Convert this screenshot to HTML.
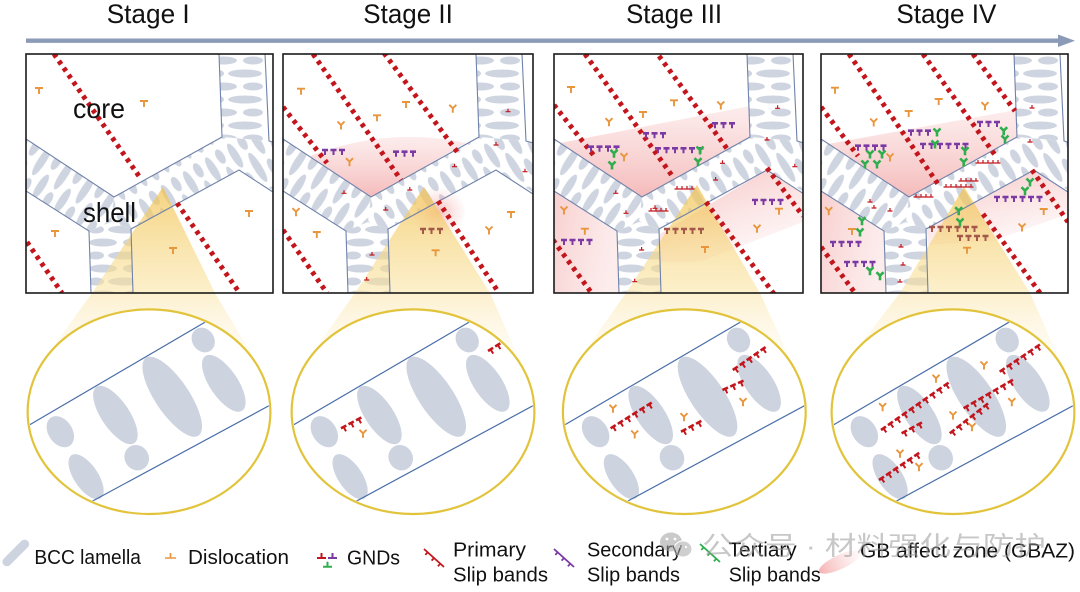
<!DOCTYPE html>
<html><head><meta charset="utf-8"><style>
html,body{margin:0;padding:0;background:#fff}
svg{display:block}
.sb{fill:none;stroke:#c3161c;stroke-width:5;stroke-dasharray:4 4.5}
.tb{fill:none;stroke-width:2.6;stroke-dasharray:6 2.5}
.ts{fill:none;stroke-width:5;stroke-dasharray:2 6.5;stroke-dashoffset:-2}
text{font-family:"Liberation Sans",Arial,sans-serif;fill:#111}
</style></head><body>
<svg width="1080" height="592" viewBox="0 0 1080 592" xmlns="http://www.w3.org/2000/svg">
<defs>
<pattern id="pH" patternUnits="userSpaceOnUse" width="60" height="26">
<ellipse cx="17" cy="6.5" rx="14" ry="4" fill="#cfd5e0"/><ellipse cx="47" cy="6.5" rx="10" ry="4" fill="#cfd5e0"/>
<ellipse cx="10" cy="19.5" rx="8" ry="4" fill="#cfd5e0"/><ellipse cx="39" cy="19.5" rx="17" ry="4" fill="#cfd5e0"/></pattern>
<pattern id="pL" patternUnits="userSpaceOnUse" width="60" height="26" patternTransform="rotate(-57)">
<ellipse cx="17" cy="6.5" rx="14" ry="4" fill="#cfd5e0"/><ellipse cx="47" cy="6.5" rx="10" ry="4" fill="#cfd5e0"/>
<ellipse cx="10" cy="19.5" rx="8" ry="4" fill="#cfd5e0"/><ellipse cx="39" cy="19.5" rx="17" ry="4" fill="#cfd5e0"/></pattern>
<pattern id="pR" patternUnits="userSpaceOnUse" width="60" height="26" patternTransform="rotate(58)">
<ellipse cx="17" cy="6.5" rx="14" ry="4" fill="#cfd5e0"/><ellipse cx="47" cy="6.5" rx="10" ry="4" fill="#cfd5e0"/>
<ellipse cx="10" cy="19.5" rx="8" ry="4" fill="#cfd5e0"/><ellipse cx="39" cy="19.5" rx="17" ry="4" fill="#cfd5e0"/></pattern>
<clipPath id="c1"><rect x="26" y="54" width="247" height="239"/></clipPath>
<clipPath id="c2"><rect x="283" y="54" width="250" height="239"/></clipPath>
<clipPath id="c3"><rect x="554" y="54" width="249" height="239"/></clipPath>
<clipPath id="c4"><rect x="821" y="54" width="247" height="239"/></clipPath>
<clipPath id="ce"><ellipse cx="149" cy="411.7" rx="120" ry="101"/></clipPath>
<linearGradient id="pkV" x1="0" y1="0" x2="0" y2="1"><stop offset="0" stop-color="#f5b5b5" stop-opacity=".25"/><stop offset="1" stop-color="#ee8c8c" stop-opacity=".6"/></linearGradient>
<linearGradient id="pkD" x1="0" y1="0" x2="0.5" y2="1"><stop offset="0" stop-color="#ef8f8f" stop-opacity=".55"/><stop offset="1" stop-color="#f6b8b8" stop-opacity=".12"/></linearGradient>
<linearGradient id="pkH" x1="0" y1="0" x2="1" y2="0.3"><stop offset="0" stop-color="#f2a0a0" stop-opacity=".5"/><stop offset="1" stop-color="#f6c0c0" stop-opacity=".3"/></linearGradient>
<radialGradient id="pkR"><stop offset="0" stop-color="#ef8a8a" stop-opacity=".55"/><stop offset="1" stop-color="#f6b3b3" stop-opacity=".05"/></radialGradient>
<linearGradient id="pkI" x1="0" y1="0" x2="1" y2="0"><stop offset="0" stop-color="#ef7f7f" stop-opacity=".6"/><stop offset="1" stop-color="#f6b3b3" stop-opacity=".05"/></linearGradient>
<linearGradient id="yc" x1="0" y1="0" x2="0" y2="1"><stop offset="0" stop-color="#f1c24f" stop-opacity=".72"/><stop offset="1" stop-color="#fae3a0" stop-opacity=".55"/></linearGradient>
<linearGradient id="yb" x1="0" y1="0" x2="0" y2="1"><stop offset="0" stop-color="#fbe6ae" stop-opacity=".6"/><stop offset="1" stop-color="#fdf3d8" stop-opacity=".15"/></linearGradient>
<path id="T" d="M-4 0H4M0 0V6" fill="none" stroke-width="1.9"/>
<path id="Y" d="M-3.5 -3.5L0 0L3.5 -3.5M0 0V4.5" fill="none" stroke-width="1.9"/>
<path id="Yb" d="M-3.5 -3.5L0 0L3.5 -3.5M0 0V4.5" fill="none" stroke-width="2.6"/>
<path id="g" d="M-2.5 0H2.5M0 0V-3" fill="none" stroke-width="1.2"/>
<g id="band">
<rect width="250" height="239" fill="#fff"/>
<polygon points="0,85 88,143 85,168 63,177 0,137" fill="url(#pL)"/>
<polygon points="63,177 85,168 105,175 107,239 65,239" fill="url(#pH)"/>
<polygon points="88,143 196,83 243,87 250,90 250,138 213,116 105,175 85,168" fill="url(#pR)"/>
<polygon points="193,0 239,0 243,87 196,83" fill="url(#pH)"/>
</g>
<g id="gl" fill="none" stroke="#6f82aa" stroke-width="1.1">
<polyline points="0,85 88,143 196,83 193,0"/>
<polyline points="239,0 243,87 250,89"/>
<polyline points="0,137 63,177 65,239"/>
<polyline points="107,239 105,175 213,116 250,140"/>
</g>
<g id="ell">
<ellipse cx="149" cy="411.7" rx="121.4" ry="102.3" fill="#fff"/>
<g clip-path="url(#ce)">
<g fill="#cdd4e0">
<ellipse cx="60.3" cy="431.7" rx="17" ry="12" transform="rotate(56 60.3 431.7)"/>
<ellipse cx="86.1" cy="476.7" rx="26" ry="12" transform="rotate(56 86.1 476.7)"/>
<ellipse cx="115.4" cy="415" rx="34" ry="14" transform="rotate(56 115.4 415)"/>
<ellipse cx="136.7" cy="457.7" rx="13" ry="12" transform="rotate(56 136.7 457.7)"/>
<ellipse cx="172.2" cy="396.7" rx="47" ry="17" transform="rotate(56 172.2 396.7)"/>
<ellipse cx="203.2" cy="340" rx="13" ry="11" transform="rotate(56 203.2 340)"/>
<ellipse cx="223.8" cy="383.3" rx="33" ry="14" transform="rotate(56 223.8 383.3)"/>
</g>
<path d="M20 430.4L280 278.3M20 540.2L280 399.8" stroke="#4a6ea9" stroke-width="1.2" fill="none"/>
</g>
<ellipse cx="149" cy="411.7" rx="121.4" ry="102.3" fill="none" stroke="#e2c43c" stroke-width="2.2"/>
</g>
</defs>

<rect width="1080" height="592" fill="#fff"/>

<!-- titles -->
<text x="106.7" y="23" font-size="27" textLength="83" lengthAdjust="spacingAndGlyphs">Stage I</text>
<text x="363.3" y="23" font-size="27" textLength="89.5" lengthAdjust="spacingAndGlyphs">Stage II</text>
<text x="626.1" y="23" font-size="27" textLength="96" lengthAdjust="spacingAndGlyphs">Stage III</text>
<text x="896.4" y="23" font-size="27" textLength="100" lengthAdjust="spacingAndGlyphs">Stage IV</text>
<line x1="26" y1="40.7" x2="1060" y2="40.7" stroke="#8b9bb7" stroke-width="4.4"/>
<polygon points="1058,34.5 1075,40.7 1058,47" fill="#8b9bb7"/>

<!-- cones below boxes -->
<polygon points="92,293 215,293 258,365 40,365" fill="url(#yb)"/>
<polygon points="355,293 490,293 522,365 304,365" fill="url(#yb)"/>
<polygon points="626,293 760,293 793,365 575,365" fill="url(#yb)"/>
<polygon points="900,293 1030,293 1062,365 844,365" fill="url(#yb)"/>

<!-- ellipses -->
<use href="#ell"/>
<use href="#ell" x="264"/>
<use href="#ell" x="535.3"/>
<use href="#ell" x="804"/>

<!-- ellipse 2 -->
<g stroke="#c3161c"><g transform="translate(341,428.3) rotate(-28)"><path class="tb" d="M0 0h23"/><path class="ts" d="M0 2.5h23"/></g>
<g transform="translate(488,351) rotate(-32)"><path class="tb" d="M0 0h14.5"/><path class="ts" d="M0 2.5h14.5"/></g></g>
<use href="#Y" x="363" y="433.3" stroke="#e8953c"/>
<!-- ellipse 3 -->
<g stroke="#c3161c">
<g transform="translate(610.6,428.3) rotate(-32)"><path class="tb" d="M0 0h48.5"/><path class="ts" d="M0 2.5h48.5"/></g>
<g transform="translate(681,431.7) rotate(-28)"><path class="tb" d="M0 0h23"/><path class="ts" d="M0 2.5h23"/></g>
<g transform="translate(722.5,390) rotate(-24)"><path class="tb" d="M0 0h23"/><path class="ts" d="M0 2.5h23"/></g>
<g transform="translate(732.8,370) rotate(-35)"><path class="tb" d="M0 0h40"/><path class="ts" d="M0 2.5h40"/></g>
</g>
<g stroke="#e8953c"><use href="#Y" x="613" y="408.3"/><use href="#Y" x="634.7" y="434"/><use href="#Y" x="684" y="416.7"/><use href="#Y" x="743" y="401.7"/></g>
<!-- ellipse 4 -->
<g stroke="#c3161c">
<g transform="translate(881,430) rotate(-35)"><path class="tb" d="M0 0h82.5"/><path class="ts" d="M0 2.5h82.5"/></g>
<g transform="translate(901.6,433.3) rotate(-28)"><path class="tb" d="M0 0h23"/><path class="ts" d="M0 2.5h23"/></g>
<g transform="translate(949.8,433.3) rotate(-38)"><path class="tb" d="M0 0h48.5"/><path class="ts" d="M0 2.5h48.5"/></g>
<g transform="translate(963.6,408.3) rotate(-30)"><path class="tb" d="M0 0h57"/><path class="ts" d="M0 2.5h57"/></g>
<g transform="translate(879,480) rotate(-34)"><path class="tb" d="M0 0h48.5"/><path class="ts" d="M0 2.5h48.5"/></g>
<g transform="translate(999.7,371.7) rotate(-34)"><path class="tb" d="M0 0h48.5"/><path class="ts" d="M0 2.5h48.5"/></g>
</g>
<g stroke="#e8953c"><use href="#Y" x="882.6" y="406.7"/><use href="#Y" x="936" y="378.3"/><use href="#Y" x="984" y="365"/><use href="#Y" x="953" y="415"/><use href="#Y" x="972" y="426.7"/><use href="#Y" x="900" y="453.3"/><use href="#Y" x="919" y="466.7"/><use href="#Y" x="1011.8" y="401.7"/></g>

<!-- PANEL 1 -->
<g clip-path="url(#c1)">
<use href="#band" x="26" y="54"/>
<polygon points="163,187 215,293 92,293" fill="url(#yc)"/>
<use href="#gl" x="26" y="54"/>
<path class="sb" d="M54 54L141 179M177 203L241 295M27 242L62 293"/>
<g stroke="#e8953c"><use href="#T" x="39" y="88"/><use href="#T" x="144" y="101"/><use href="#T" x="249" y="211"/><use href="#T" x="55" y="231"/><use href="#T" x="173" y="248"/></g>
</g>
<rect x="26" y="54" width="247" height="239" fill="none" stroke="#1a1a1a" stroke-width="1.6"/>
<text x="73" y="118" font-size="28" textLength="52" lengthAdjust="spacingAndGlyphs">core</text>
<text x="83" y="222" font-size="28" textLength="53" lengthAdjust="spacingAndGlyphs">shell</text>

<!-- PANEL 2 -->
<g clip-path="url(#c2)">
<use href="#band" x="283" y="54"/>
<path d="M310 156Q390 126 466 143L371 197Z" fill="url(#pkV)"/>
<ellipse cx="438" cy="212" rx="27" ry="24" fill="url(#pkR)"/>
<polygon points="424,187 490,293 355,293" fill="url(#yc)"/>
<use href="#gl" x="283" y="54"/>
<path class="sb" d="M313 54L401 180M384 53L458 153M283 107L327 163M438 201L499 293M283 230L327 293"/>
<g stroke="#7b3aa3"><path class="tb" d="M322 150h23"/><path class="ts" d="M322 152.5h23"/><path class="tb" d="M393 151.7h23"/><path class="ts" d="M393 154.2h23"/></g>
<g stroke="#a4584a"><path class="tb" d="M420 229h23"/><path class="ts" d="M420 231.5h23"/></g>
<g stroke="#e8953c"><use href="#T" x="301" y="88.7"/><use href="#T" x="406" y="102"/><use href="#T" x="377" y="115.3"/><use href="#T" x="316.8" y="232"/><use href="#T" x="435.6" y="250.3"/><use href="#T" x="511" y="212"/>
<use href="#Y" x="452.8" y="108.3"/><use href="#Y" x="341" y="125"/><use href="#Y" x="349.5" y="161.7"/><use href="#Y" x="296" y="211.7"/><use href="#Y" x="489" y="230"/></g>
<g stroke="#c3161c"><use href="#g" x="344" y="193.3"/><use href="#g" x="385.7" y="210"/><use href="#g" x="409.8" y="190"/><use href="#g" x="454.5" y="166.7"/><use href="#g" x="496" y="145"/><use href="#g" x="508" y="111.7"/><use href="#g" x="372" y="255"/><use href="#g" x="366.7" y="280"/><use href="#g" x="525" y="171.7"/></g>
</g>
<rect x="283" y="54" width="250" height="239" fill="none" stroke="#1a1a1a" stroke-width="1.6"/>

<!-- PANEL 3 -->
<g clip-path="url(#c3)">
<use href="#band" x="554" y="54"/>
<polygon points="560,143 750,106 750,137 642,197" fill="url(#pkV)"/>
<polygon points="660,234 767,170 803,193 803,222 700,262 660,262" fill="url(#pkD)"/>
<polygon points="554,191 617,231 619,293 554,293" fill="url(#pkH)"/>
<polygon points="697,185 760,293 626,293" fill="url(#yc)"/>
<use href="#gl" x="554" y="54"/>
<path class="sb" d="M585 54L673 177M659 56L728 150M554 105L595 157M767 168L803 216M706 202L774 294M553 240L593 295"/>
<g stroke="#7b3aa3">
<path class="tb" d="M588 146.7h31.5"/><path class="ts" d="M588 149.2h31.5"/>
<path class="tb" d="M643 133.3h23"/><path class="ts" d="M643 135.8h23"/>
<path class="tb" d="M655 148.3h48.5"/><path class="ts" d="M655 150.8h48.5"/>
<path class="tb" d="M712 123.3h23"/><path class="ts" d="M712 125.8h23"/>
<path class="tb" d="M752 200h31.5"/><path class="ts" d="M752 202.5h31.5"/>
<path class="tb" d="M561 240h31.5"/><path class="ts" d="M561 242.5h31.5"/>
</g>
<g stroke="#a4584a"><path class="tb" d="M664 229h40"/><path class="ts" d="M664 231.5h40"/></g>
<g stroke="#2fae4e"><use href="#Yb" x="614" y="153.3"/><use href="#Yb" x="612" y="165"/><use href="#Yb" x="700" y="150"/><use href="#Yb" x="698" y="161.7"/></g>
<g stroke="#e8953c"><use href="#T" x="571" y="87"/><use href="#T" x="674" y="100.3"/><use href="#T" x="643" y="112"/><use href="#T" x="584.8" y="228.7"/><use href="#T" x="705" y="247"/><use href="#T" x="779" y="208.7"/>
<use href="#Y" x="720.8" y="105"/><use href="#Y" x="609" y="121.7"/><use href="#Y" x="624" y="156.7"/><use href="#Y" x="564" y="210"/><use href="#Y" x="757" y="228.3"/></g>
<g stroke="#c3161c"><use href="#g" x="626" y="213.3"/><use href="#g" x="655" y="208.3"/><use href="#g" x="715.6" y="180"/><use href="#g" x="722.5" y="163.3"/><use href="#g" x="794.8" y="166.7"/><use href="#g" x="767" y="140"/><use href="#g" x="777.6" y="108.3"/><use href="#g" x="641.6" y="250"/><use href="#g" x="634.7" y="281.7"/><use href="#g" x="615.8" y="193.3"/>
<use href="#g" x="677" y="189"/><use href="#g" x="682" y="189"/><use href="#g" x="687" y="189"/><use href="#g" x="692" y="189"/>
<use href="#g" x="651" y="211"/><use href="#g" x="656" y="211"/><use href="#g" x="661" y="211"/><use href="#g" x="666" y="211"/></g>
</g>
<rect x="554" y="54" width="249" height="239" fill="none" stroke="#1a1a1a" stroke-width="1.6"/>

<!-- PANEL 4 -->
<g clip-path="url(#c4)">
<use href="#band" x="821" y="54"/>
<polygon points="828,144 1016,110 1017,137 909,197 821,139" fill="url(#pkV)"/>
<polygon points="927,229 1034,170 1068,193 1068,214 992,241 928,245" fill="url(#pkD)"/>
<polygon points="821,191 884,231 886,293 821,293" fill="url(#pkH)"/>
<polygon points="964,187 1030,293 900,293" fill="url(#yc)"/>
<use href="#gl" x="821" y="54"/>
<path class="sb" d="M849 54L940 187M923 54L995 155M973 54L1015 111M821 107L858 156M1032 170L1068 222M983 214L1040 293M821 247L855 293"/>
<g stroke="#7b3aa3">
<path class="tb" d="M855 145.7h31.5"/><path class="ts" d="M855 148.2h31.5"/>
<path class="tb" d="M908 130.7h23"/><path class="ts" d="M908 133.2h23"/>
<path class="tb" d="M920 144h48.5"/><path class="ts" d="M920 146.5h48.5"/>
<path class="tb" d="M977 122h23"/><path class="ts" d="M977 124.5h23"/>
<path class="tb" d="M994 197h48.5"/><path class="ts" d="M994 199.5h48.5"/>
<path class="tb" d="M830 242h31.5"/><path class="ts" d="M830 244.5h31.5"/>
<path class="tb" d="M844 262h31.5"/><path class="ts" d="M844 264.5h31.5"/>
</g>
<g stroke="#a4584a"><path class="tb" d="M929 227h48.5"/><path class="ts" d="M929 229.5h48.5"/><path class="tb" d="M957 236h31.5"/><path class="ts" d="M957 238.5h31.5"/></g>
<g stroke="#2fae4e"><use href="#Yb" x="870" y="154"/><use href="#Yb" x="882" y="154"/><use href="#Yb" x="865" y="164"/><use href="#Yb" x="877" y="164"/><use href="#Yb" x="937" y="132"/><use href="#Yb" x="935" y="144"/><use href="#Yb" x="965" y="150.7"/><use href="#Yb" x="963.7" y="162"/><use href="#Yb" x="1003.7" y="130.7"/><use href="#Yb" x="1005" y="139"/><use href="#Yb" x="1030" y="182"/><use href="#Yb" x="1025" y="190.7"/><use href="#Yb" x="862" y="220.7"/><use href="#Yb" x="860" y="232"/><use href="#Yb" x="870" y="270.7"/><use href="#Yb" x="880" y="275.7"/><use href="#Yb" x="958.7" y="210.7"/><use href="#Yb" x="960" y="222"/></g>
<g stroke="#e8953c"><use href="#T" x="835" y="87.7"/><use href="#T" x="938.7" y="99"/><use href="#T" x="908.7" y="111"/><use href="#T" x="852" y="229"/><use href="#T" x="967" y="247.7"/><use href="#T" x="1043.7" y="209"/>
<use href="#Y" x="873.7" y="122"/><use href="#Y" x="985" y="105.7"/><use href="#Y" x="890" y="157"/><use href="#Y" x="828.7" y="210.7"/><use href="#Y" x="1022" y="227"/></g>
<g stroke="#c3161c">
<use href="#g" x="946" y="187"/><use href="#g" x="951" y="187"/><use href="#g" x="956" y="187"/><use href="#g" x="961" y="187"/><use href="#g" x="966" y="187"/><use href="#g" x="971" y="187"/>
<use href="#g" x="961" y="181"/><use href="#g" x="966" y="181"/><use href="#g" x="971" y="181"/><use href="#g" x="976" y="181"/>
<use href="#g" x="978" y="163"/><use href="#g" x="983" y="163"/><use href="#g" x="988" y="163"/><use href="#g" x="993" y="163"/><use href="#g" x="998" y="163"/>
<use href="#g" x="916" y="197"/><use href="#g" x="921" y="197"/><use href="#g" x="926" y="197"/><use href="#g" x="931" y="197"/>
<use href="#g" x="874" y="208"/><use href="#g" x="890" y="211"/><use href="#g" x="1032" y="108"/><use href="#g" x="1030" y="142"/><use href="#g" x="901" y="247"/><use href="#g" x="900" y="282"/><use href="#g" x="870" y="202"/><use href="#g" x="903" y="265"/></g>
</g>
<rect x="821" y="54" width="247" height="239" fill="none" stroke="#1a1a1a" stroke-width="1.6"/>

<!-- LEGEND -->
<rect x="-1" y="550" width="34" height="9" rx="4.5" fill="#cdd4e0" transform="rotate(-45 14 554)"/>
<text x="34.4" y="564" font-size="20" textLength="106.5" lengthAdjust="spacingAndGlyphs">BCC lamella</text>
<path d="M165 558H176M170.5 553V558" stroke="#e8953c" stroke-width="1.6" fill="none"/>
<text x="188" y="564" font-size="20" textLength="101" lengthAdjust="spacingAndGlyphs">Dislocation</text>
<path d="M317 558H326M321.5 553V558" stroke="#c3161c" stroke-width="2" fill="none"/>
<path d="M328 558H337M332.5 553V558" stroke="#7b3aa3" stroke-width="2" fill="none"/>
<path d="M323 566.7H332M327.5 561.7V566.7" stroke="#2fae4e" stroke-width="2" fill="none"/>
<text x="347" y="564.3" font-size="20" textLength="53" lengthAdjust="spacingAndGlyphs">GNDs</text>
<path d="M424 549L444 567M427.7 552.3l-2.4 2.6M434 558l-2.4 2.6M440.3 563.7l-2.4 2.6" stroke="#c3161c" stroke-width="1.8" fill="none"/>
<text x="453" y="556.7" font-size="20" textLength="73" lengthAdjust="spacingAndGlyphs">Primary</text>
<text x="453" y="581.7" font-size="20" textLength="95" lengthAdjust="spacingAndGlyphs">Slip bands</text>
<path d="M554 549L574 567M557.7 552.3l-2.4 2.6M564 558l-2.4 2.6M570.3 563.7l-2.4 2.6" stroke="#7b3aa3" stroke-width="1.8" fill="none"/>
<text x="587" y="556.7" font-size="20" textLength="95" lengthAdjust="spacingAndGlyphs">Secondary</text>
<text x="587" y="581.7" font-size="20" textLength="93" lengthAdjust="spacingAndGlyphs">Slip bands</text>
<path d="M700 544L720 562M703.7 547.3l-2.4 2.6M710 553l-2.4 2.6M716.3 558.7l-2.4 2.6" stroke="#2fae4e" stroke-width="1.8" fill="none"/>
<text x="728.7" y="556.7" font-size="20" textLength="68" lengthAdjust="spacingAndGlyphs">Tertiary</text>
<text x="728.7" y="581.7" font-size="20" textLength="92" lengthAdjust="spacingAndGlyphs">Slip bands</text>
<ellipse cx="840" cy="562" rx="23" ry="7" transform="rotate(-25 840 562)" fill="url(#pkI)"/>
<text x="860" y="557.3" font-size="20" textLength="215" lengthAdjust="spacingAndGlyphs">GB affect zone (GBAZ)</text>

<!-- watermark -->
<g opacity="0.55">
<ellipse cx="671" cy="542" rx="11" ry="9.5" fill="#a0a0a0"/>
<ellipse cx="683" cy="549" rx="9" ry="8" fill="#a8a8a8" stroke="#fff" stroke-width="1"/>
<circle cx="667" cy="539" r="1.4" fill="#fff"/><circle cx="675" cy="539" r="1.4" fill="#fff"/>
<circle cx="680" cy="547" r="1.1" fill="#fff"/><circle cx="686" cy="547" r="1.1" fill="#fff"/>
<text x="702" y="555" font-size="26" textLength="344" lengthAdjust="spacingAndGlyphs" style="font-family:'Liberation Sans','Noto Sans CJK SC',sans-serif;fill:#9a9a9a">公众号 · 材料强化与防护</text>
</g>
</svg>
</body></html>
